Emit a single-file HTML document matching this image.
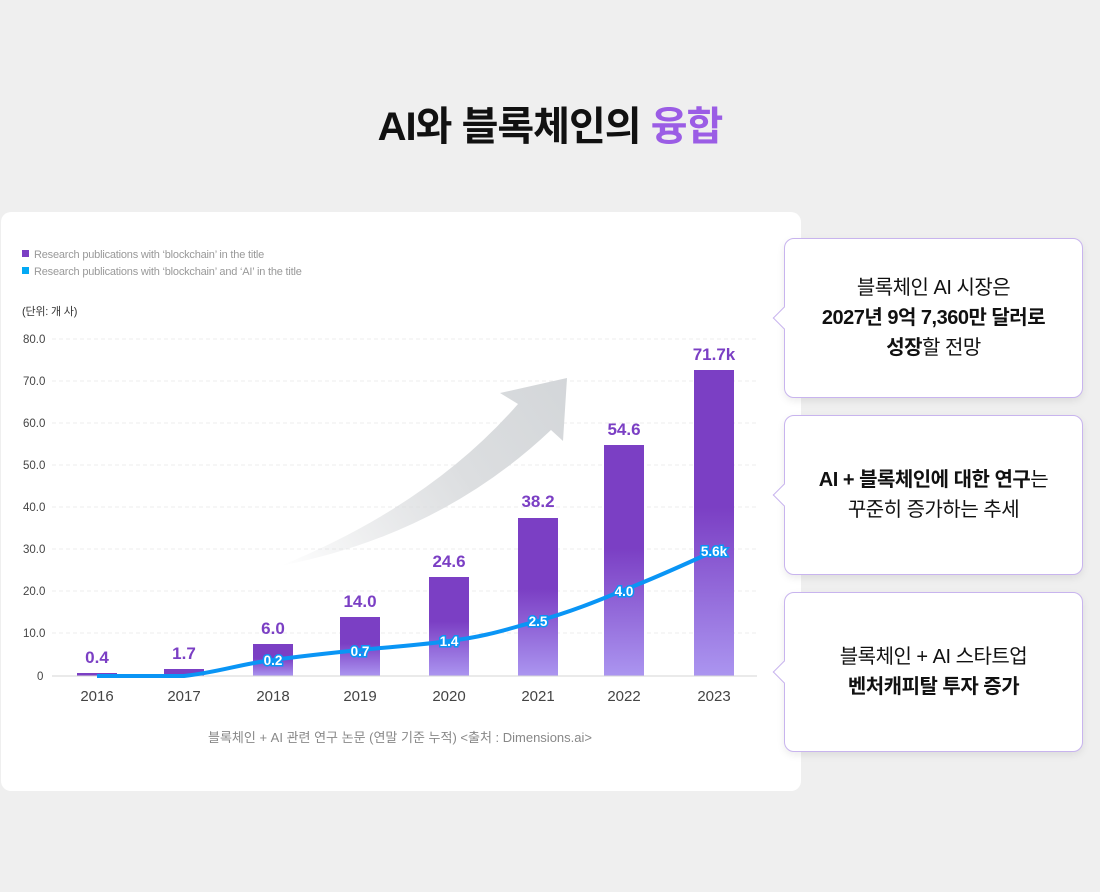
<!DOCTYPE html>
<html><head><meta charset="utf-8"><style>
body{margin:0;width:1100px;height:892px;background:#efefef;font-family:"Liberation Sans","Noto Sans CJK KR",sans-serif;position:relative;overflow:hidden}
.title{position:absolute;top:94px;left:0;width:1100px;text-align:center;font-size:40px;font-weight:bold;color:#111;letter-spacing:-1px}
.title span{color:#9b5de5}
.card{position:absolute;left:1px;top:212px;width:800px;height:579px;background:#fff;border-radius:10px}
.box{position:absolute;left:784px;width:297px;height:158px;background:#fff;border:1px solid #c8b4ee;border-radius:10px;box-shadow:0 3px 8px rgba(0,0,0,.08);display:flex;align-items:center;justify-content:center;text-align:center;font-size:20px;line-height:30px;color:#111;letter-spacing:-.5px}
.box b{font-weight:bold}
.ptr{position:absolute;left:-9px;top:71px;width:15px;height:15px;background:#fff;border-left:1px solid #c8b4ee;border-bottom:1px solid #c8b4ee;transform:rotate(45deg)}
</style></head><body>
<div class="title">AI와 블록체인의 <span>융합</span></div>
<div class="card"></div>
<svg width="1100" height="892" style="position:absolute;left:0;top:0">
<defs>
<linearGradient id="bg" x1="0" y1="0" x2="0" y2="1"><stop offset="0.45" stop-color="#7b3fc4"/><stop offset="1" stop-color="#ab95f0"/></linearGradient>
<linearGradient id="ag" gradientUnits="userSpaceOnUse" x1="280" y1="566" x2="567" y2="378"><stop offset="0" stop-color="#d3d5d8" stop-opacity="0"/><stop offset="0.6" stop-color="#dcdee0"/><stop offset="1" stop-color="#d3d6d9"/></linearGradient>
</defs>
<g font-size="11" fill="#999" font-family="Liberation Sans, Noto Sans CJK KR, sans-serif" letter-spacing="-0.2">
<rect x="22" y="250" width="7" height="7" fill="#7b3fc4"/><text x="34" y="258">Research publications with ‘blockchain’ in the title</text>
<rect x="22" y="267" width="7" height="7" fill="#03a9f4"/><text x="34" y="275">Research publications with ‘blockchain’ and ‘AI’ in the title</text>
<text x="22" y="315" fill="#333">(단위: 개 사)</text>
</g>
<g stroke="#ececec" stroke-dasharray="4,3">
<line x1="52" x2="757" y1="339" y2="339"/><line x1="52" x2="757" y1="381" y2="381"/><line x1="52" x2="757" y1="423" y2="423"/><line x1="52" x2="757" y1="465" y2="465"/><line x1="52" x2="757" y1="507" y2="507"/><line x1="52" x2="757" y1="549" y2="549"/><line x1="52" x2="757" y1="591" y2="591"/><line x1="52" x2="757" y1="633" y2="633"/>
</g>
<g font-size="11.5" fill="#444" text-anchor="start">
<text x="23" y="343">80.0</text><text x="23" y="385">70.0</text><text x="23" y="427">60.0</text><text x="23" y="469">50.0</text><text x="23" y="511">40.0</text><text x="23" y="553">30.0</text><text x="23" y="595">20.0</text><text x="23" y="637">10.0</text><text x="37" y="680">0</text>
</g>
<path d="M280,566 Q430,505 518,404 L500,393 L567,378 L563,441 L551,430 Q440,535 280,566 Z" fill="url(#ag)"/>
<g fill="url(#bg)">
<rect x="77" y="673" width="40" height="3" fill="#7b3fc4"/><rect x="164" y="669" width="40" height="7" fill="#7b3fc4"/><rect x="253" y="644" width="40" height="32"/><rect x="340" y="617" width="40" height="59"/><rect x="429" y="577" width="40" height="99"/><rect x="518" y="518" width="40" height="158"/><rect x="604" y="445" width="40" height="231"/><rect x="694" y="370" width="40" height="306"/>
</g>
<line x1="52" x2="757" y1="676" y2="676" stroke="#d6d6d6"/>
<g font-size="17" font-weight="bold" fill="#7b3fc4" text-anchor="middle">
<text x="97" y="663">0.4</text><text x="184" y="659">1.7</text><text x="273" y="634">6.0</text><text x="360" y="607">14.0</text><text x="449" y="567">24.6</text><text x="538" y="507">38.2</text><text x="624" y="435">54.6</text><text x="714" y="360">71.7k</text>
</g>
<path d="M97,676 L184,676 C220,672 240,664 273,660 C310,655 330,653 360,650 C400,646 420,645 449,641 C490,636 510,628 538,621 C570,612 595,602 624,590 C660,576 690,562 714,551" fill="none" stroke="#0a95f5" stroke-width="4"/>
<g font-size="13.5" font-weight="bold" fill="#fff" text-anchor="middle" stroke="#0a95f5" stroke-width="3" paint-order="stroke">
<text x="273" y="665">0.2</text><text x="360" y="656">0.7</text><text x="449" y="646">1.4</text><text x="538" y="626">2.5</text><text x="624" y="596">4.0</text><text x="714" y="556">5.6k</text>
</g>
<g font-size="15" fill="#444" text-anchor="middle">
<text x="97" y="701">2016</text><text x="184" y="701">2017</text><text x="273" y="701">2018</text><text x="360" y="701">2019</text><text x="449" y="701">2020</text><text x="538" y="701">2021</text><text x="624" y="701">2022</text><text x="714" y="701">2023</text>
</g>
<text x="400" y="742" font-size="13" fill="#888" text-anchor="middle" font-family="Liberation Sans, Noto Sans CJK KR, sans-serif">블록체인 + AI 관련 연구 논문 (연말 기준 누적) &lt;출처 : Dimensions.ai&gt;</text>
</svg>
<div class="box" style="top:238px"><div class="ptr"></div><div style="position:relative">블록체인 AI 시장은<br><b>2027년 9억 7,360만 달러로</b><br><b>성장</b>할 전망</div></div>
<div class="box" style="top:415px"><div class="ptr"></div><div style="position:relative"><b>AI + 블록체인에 대한 연구</b>는<br>꾸준히 증가하는 추세</div></div>
<div class="box" style="top:592px"><div class="ptr"></div><div style="position:relative">블록체인 + AI 스타트업<br><b>벤처캐피탈 투자 증가</b></div></div>
</body></html>
